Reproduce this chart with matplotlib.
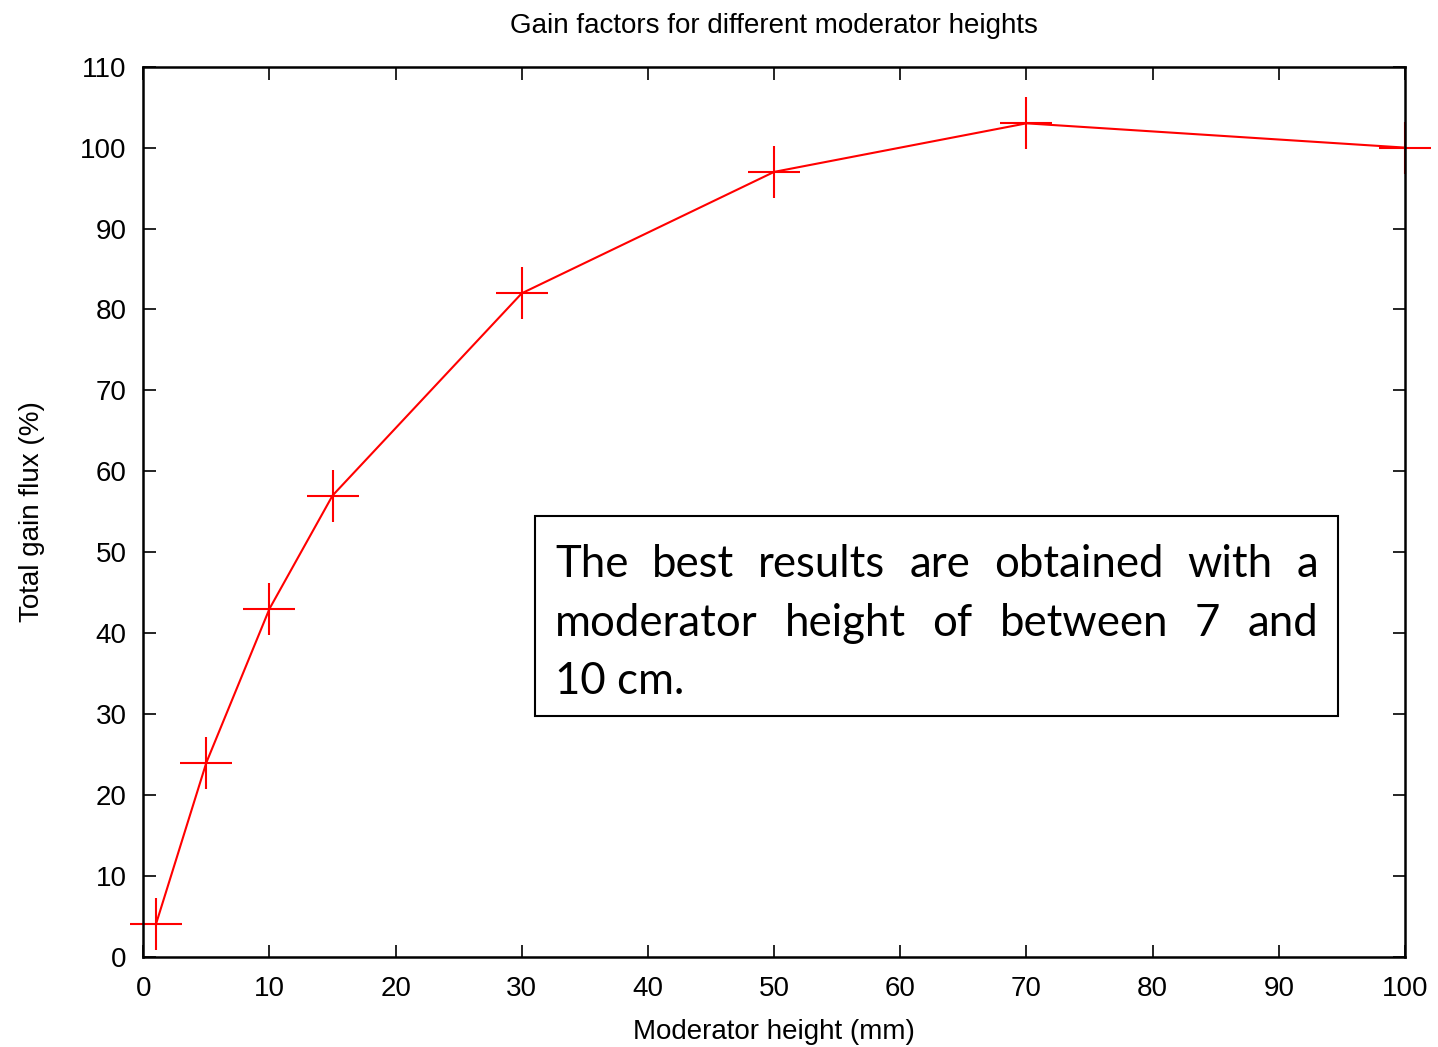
import matplotlib
matplotlib.use("Agg")
from matplotlib import pyplot as plt
from matplotlib.patches import Rectangle

# Data
heights = [1, 5, 10, 15, 30, 50, 70, 100]
gain = [4, 24, 43, 57, 82, 97, 103, 100]

x_ticks = list(range(0, 101, 10))
y_ticks = list(range(0, 111, 10))

note_lines = ["The best results are obtained with a",
              "moderator height of between 7 and",
              "10 cm."]

plt.rcParams['font.family'] = ['Liberation Sans', 'DejaVu Sans']

W, H = 1438, 1047
fig = plt.figure(figsize=(W / 100, H / 100), dpi=100)
ax = fig.add_axes([143.3 / W, 1 - 956.7 / H, (1405 - 143.3) / W, (956.7 - 66.7) / H])

ax.plot(heights, gain, color='red', lw=1.5, marker='+', markersize=37,
        markeredgewidth=1.5, clip_on=False)

ax.set_xlim(0, 100)
ax.set_ylim(0, 110)
ax.set_xticks(x_ticks)
ax.set_yticks(y_ticks)
ax.tick_params(direction='in', length=9, width=1.2, labelsize=20,
               top=True, right=True)
ax.tick_params(axis='x', pad=14)
ax.tick_params(axis='y', pad=12)
for sp in ax.spines.values():
    sp.set_linewidth(1.8)

ax.set_title("Gain factors for different moderator heights", fontsize=20, pad=24)
ax.set_xlabel("Moderator height (mm)", fontsize=20, labelpad=12)
ax.set_ylabel("Total gain flux (%)", fontsize=20, labelpad=25)

# Note box (figure pixel coords)
box = Rectangle((535 / W, 1 - 716 / H), (1338 - 535) / W, (716 - 516) / H,
                transform=fig.transFigure, fill=False, edgecolor='black', lw=1.5)
fig.add_artist(box)

fig.canvas.draw()
renderer = fig.canvas.get_renderer()
left_px, right_px = 555, 1318
baselines = [577, 636, 694]
note_font = dict(family=['Lato', 'DejaVu Sans'], fontsize=31.5, color='black')
for i, line in enumerate(note_lines):
    y = 1 - baselines[i] / H
    words = line.split(" ")
    if i == len(note_lines) - 1:
        fig.text(left_px / W, y, line, va='baseline', ha='left', **note_font)
        continue
    # justify the line across the box
    texts = [fig.text(0, y, w, va='baseline', ha='left', **note_font) for w in words]
    widths = [t.get_window_extent(renderer).width for t in texts]
    gap = (right_px - left_px - sum(widths)) / (len(words) - 1)
    xpos = left_px
    for t, wd in zip(texts, widths):
        t.set_x(xpos / W)
        xpos += wd + gap

fig.savefig("out.png", dpi=100)
